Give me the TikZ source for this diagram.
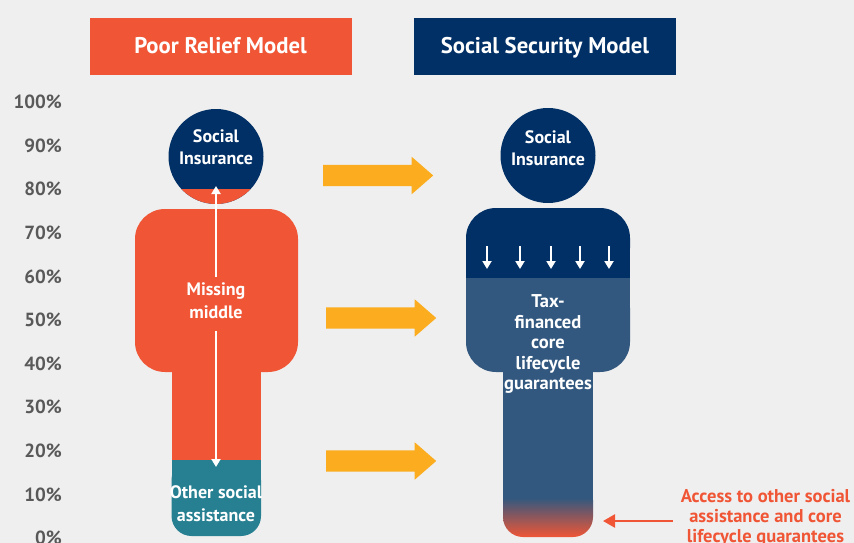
\documentclass[tikz,border=0pt]{standalone}
\usepackage{fontspec}
\setmainfont{PT Sans}
\usetikzlibrary{shapes.arrows,arrows.meta}
\definecolor{bgGrey}{HTML}{EFEFEF}
\definecolor{reliefRed}{HTML}{F05636}
\definecolor{navyBlue}{HTML}{003066}
\definecolor{midBlue}{HTML}{32587F}
\definecolor{tealBlue}{HTML}{268091}
\definecolor{arrowGold}{HTML}{FBAD1F}
\definecolor{axisGrey}{HTML}{595959}
\begin{document}
\begin{tikzpicture}[
    x = 1pt, y = -1pt,
    every node/.style = {font = \bfseries, inner sep = 0pt},
    headbox/.style = {minimum width = 262pt, minimum height = 57pt, text height = 15pt, text depth = 0pt, text = white, font = \fontsize{22.7}{22.7}\bfseries\selectfont},
    pct/.style = {anchor = east, text = axisGrey, font = \fontsize{19}{19}\bfseries\selectfont},
    inlabel/.style = {align = center, text = white, font = \fontsize{18}{23}\bfseries\selectfont},
    bigarrow/.style = {single arrow, anchor = tail, fill = arrowGold, inner sep = 10.5pt, minimum width = 37pt, minimum height = 110pt, single arrow head extend = 8pt, single arrow tip angle = 82},
    thinwhite/.style = {draw = white, line width = 2.2pt, -{Triangle[length = 8pt, width = 9pt]}}]

\useasboundingbox (0,0) rectangle (854,543);
\clip (0,0) rectangle (854,543);
\fill[bgGrey] (0,0) rectangle (854,543);

\node[headbox, fill = reliefRed] (poor) at (220.5,46.5) {Poor Relief Model};
\node[headbox, fill = navyBlue] (secu) at (545,46.5) {Social Security Model};

% axis labels
\foreach \pc/\ypos in {100/102,90/145.5,80/189,70/232.5,60/276.5,50/320,40/363.5,30/407,20/451,10/494.5,0/537.5}
    \node[pct] (pc\pc) at (62,\ypos) {\pc\%};

% left figure
\fill[navyBlue] (216,156.5) circle (47.5);
\begin{scope}
    \clip (150,189) rectangle (280,210);
    \fill[reliefRed] (216,156.5) circle (47.5);
\end{scope}
\fill[reliefRed, rounded corners = 30] (135,209) rectangle (298,372);
\fill[reliefRed] (171.5,360) rectangle (261,460);
\fill[tealBlue, rounded corners = 20] (171.5,460) -- (261,460) -- (261,536) -- (171.5,536) -- cycle;
\fill[tealBlue] (171.5,460) rectangle (261,480);

\node[inlabel] (headL) at (216,147) {Social\\[-1pt]Insurance};
\node[inlabel] (missing) at (216,301) {Missing\\middle};
\node[inlabel] (other) at (216,503.5) {Other social\\assistance};
\coordinate (upTip) at (216,186);
\coordinate (downTip) at (216,467);
\draw[thinwhite] (missing.north |- 0,277) -- (upTip);
\draw[thinwhite] (missing.south |- 0,331) -- (downTip);

% right figure
\fill[navyBlue] (548,155.5) circle (47.5);
\fill[navyBlue, rounded corners = 30] (466,208) -- (630,208) -- (630,278) -- (466,278) -- cycle;
\fill[navyBlue] (466,250) rectangle (630,278);
\fill[midBlue, rounded corners = 30] (466,278) -- (630,278) -- (630,372) -- (466,372) -- cycle;
\fill[midBlue] (466,278) rectangle (630,310);
\fill[midBlue] (503,360) rectangle (593,498);
\begin{scope}
    \clip[rounded corners = 20] (503,480) -- (593,480) -- (593,537) -- (503,537) -- cycle;
    \shade[top color = midBlue, bottom color = reliefRed] (503,498) rectangle (593,537);
\end{scope}

\foreach \xpos/\nm in {487/a,520/b,551/c,580/d,609/e} {
    \coordinate (top\nm) at (\xpos,246);
    \coordinate (tip\nm) at (\xpos,269);
    \draw[thinwhite] (top\nm) -- (tip\nm);
}

\node[inlabel] (headR) at (548,148) {Social\\[-1pt]Insurance};
\node[inlabel, font = \fontsize{18.5}{20.5}\bfseries\selectfont] (tax) at (548,344) {Tax-\\financed\\core\\lifecycle\\guarantees};

% arrows between the two models
\node[bigarrow] (moveA) at (323,175.5) {};
\node[bigarrow] (moveB) at (326,318) {};
\node[bigarrow] (moveC) at (326,461) {};

% access note
\node[align = center, text = reliefRed, font = \fontsize{18.5}{20}\bfseries\selectfont] (access) at (765.5,517.5) {Access to other social\\assistance and core\\lifecycle guarantees};
\coordinate (accessTip) at (603,521);
\draw[reliefRed, line width = 2.5pt, -{Triangle[length = 12pt, width = 13pt]}] (access.west |- accessTip) ++(-8,0) -- (accessTip);
\end{tikzpicture}
\end{document}
